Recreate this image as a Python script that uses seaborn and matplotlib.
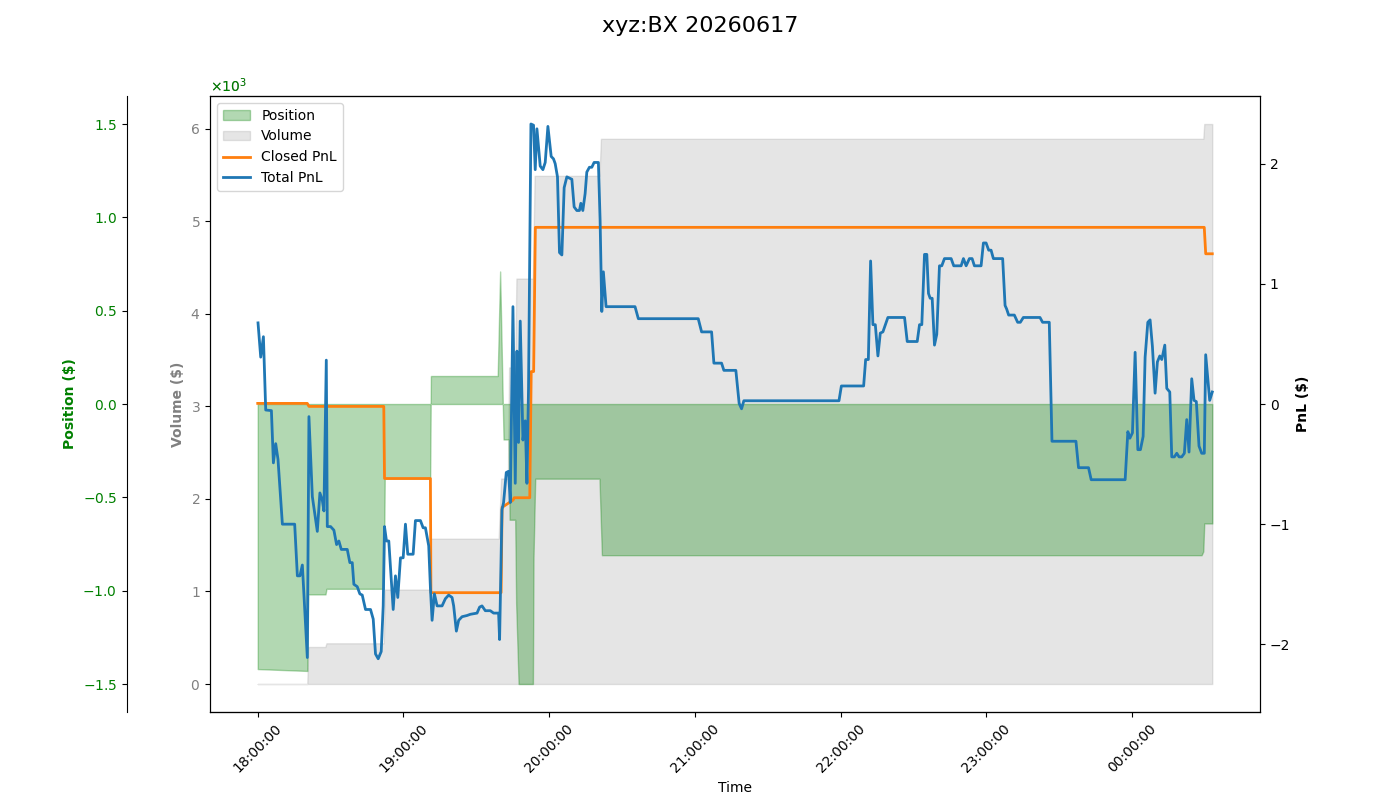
import matplotlib
matplotlib.use('Agg')
import matplotlib.pyplot as plt
import matplotlib.dates as mdates
from matplotlib.patches import Patch
from matplotlib.lines import Line2D
import numpy as np
import pandas as pd
import seaborn as sns

title = 'xyz:BX 20260617'
start = pd.Timestamp('2026-06-17 18:00:00')

# minutes since 18:00 / total pnl ($)
pnl_min = [0.12, 1.23, 2.34, 3.29, 5.63, 6.45, 7.40, 8.34, 10.15, 15.21, 16.32, 17.38, 18.37, 20.42,
           21.08, 22.48, 24.53, 25.60, 26.59, 27.25, 28.23, 28.64, 30.0, 31.36, 32.47, 33.41, 34.40,
           36.86, 37.93, 38.92, 39.58, 40.97, 42.04, 43.03, 44.38, 46.44, 47.55, 48.49, 49.60, 50.84,
           51.66, 52.19, 53.01, 53.96, 55.77, 56.71, 57.66, 58.77, 59.88, 60.82, 61.77, 63.99, 64.93,
           66.99, 68.10, 69.04, 70.40, 71.10, 71.79, 72.74, 73.85, 75.90, 77.26, 78.62, 80.01, 80.67,
           81.78, 82.73, 84.13, 86.18, 87.53, 90.29, 91.36, 92.34, 93.70, 95.75, 97.11, 99.17, 99.58,
           100.56, 101.22, 102.33, 103.28, 103.97, 105.08, 106.03, 106.73, 107.38, 108.08, 109.19,
           110.14, 110.84, 111.49, 112.48, 113.55, 114.25, 114.95, 116.30, 117.41, 118.36, 119.47,
           120.82, 121.77, 122.47, 123.41, 124.24, 125.22, 126.16, 127.27, 129.33, 130.27, 131.38,
           132.45, 133.03, 133.85, 134.79, 135.49, 136.56, 137.55, 138.49, 140.26, 140.96, 141.66,
           142.31, 143.42, 155.34, 156.70, 181.36, 182.75, 186.86, 187.81, 190.97, 191.92, 196.85,
           198.21, 199.20, 200.14, 239.31, 240.30, 249.46, 250.29, 251.40, 252.33, 253.28, 254.27,
           255.34, 256.32, 257.39, 259.45, 266.30, 267.41, 271.52, 272.47, 273.41, 274.52, 275.47,
           276.16, 276.86, 277.68, 278.63, 279.57, 280.68, 281.63, 282.74, 285.49, 286.56, 289.60,
           290.55, 291.66, 293.01, 294.12, 295.07, 297.82, 298.77, 299.88, 300.95, 301.93, 302.88,
           306.70, 307.69, 308.35, 309.17, 311.51, 312.87, 313.97, 315.21, 322.07, 323.14, 325.89,
           327.0, 336.87, 337.94, 342.05, 343.15, 357.13, 358.24, 359.06, 360.13, 361.24, 362.35,
           363.42, 364.53, 365.35, 366.46, 367.40, 368.35, 369.46, 370.40, 371.39, 372.21, 373.45,
           374.27, 375.50, 376.32, 377.39, 378.38, 379.32, 380.43, 381.50, 382.49, 383.43, 384.54,
           385.49, 386.43, 387.54, 388.65, 389.72, 390.29, 391.36, 391.94, 393.0]
total_pnl = [0.675, 0.39, 0.56, -0.05, -0.055, -0.49, -0.33, -0.46, -1.0, -1.0, -1.43, -1.43, -1.34, -2.11,
             -0.105, -0.77, -1.06, -0.74, -0.80, -0.89, 0.365, -1.02, -1.02, -1.05, -1.17, -1.14, -1.21,
             -1.21, -1.32, -1.32, -1.50, -1.52, -1.58, -1.59, -1.71, -1.71, -1.79, -2.08, -2.12, -2.06,
             -1.68, -1.02, -1.14, -1.14, -1.71, -1.43, -1.61, -1.28, -1.28, -1.0, -1.25, -1.25, -0.97,
             -0.97, -1.03, -1.03, -1.18, -1.53, -1.80, -1.58, -1.68, -1.68, -1.62, -1.59, -1.61, -1.68,
             -1.89, -1.80, -1.77, -1.76, -1.75, -1.74, -1.69, -1.68, -1.72, -1.72, -1.74, -1.74, -1.96,
             -0.88, -0.82, -0.57, -0.56, -0.82, 0.81, -0.66, 0.44, -0.32, 0.69, -0.30,
             -0.14, -0.66, 0.13, 2.33, 2.32, 1.95, 2.29, 1.98, 1.95, 2.01, 2.31,
             2.06, 2.04, 2.0, 1.89, 1.26, 1.24, 1.80, 1.89, 1.87, 1.64, 1.61,
             1.61, 1.67, 1.61, 1.75, 1.93, 1.97, 1.97, 2.01, 2.01, 1.53, 0.77,
             1.10, 0.81, 0.81, 0.71, 0.71, 0.60, 0.60, 0.34, 0.34, 0.28, 0.28,
             0.005, -0.04, 0.027, 0.027, 0.15, 0.15, 0.37, 0.37, 1.19, 0.66, 0.66,
             0.40, 0.59, 0.60, 0.72, 0.72, 0.52, 0.52, 0.66, 0.66, 1.245, 1.245,
             0.92, 0.88, 0.88, 0.49, 0.58, 1.15, 1.15, 1.21, 1.21, 1.15, 1.15,
             1.21, 1.15, 1.21, 1.21, 1.15, 1.15, 1.34, 1.34, 1.28, 1.28, 1.21,
             1.21, 0.82, 0.79, 0.74, 0.74, 0.68, 0.68, 0.72, 0.72, 0.68, 0.68,
             -0.31, -0.31, -0.53, -0.53, -0.63, -0.63, -0.23, -0.285, -0.24, 0.43, -0.38,
             -0.38, -0.27, 0.39, 0.68, 0.70, 0.48, 0.09, 0.35, 0.40, 0.37, 0.49,
             0.13, 0.10, -0.44, -0.44, -0.41, -0.44, -0.44, -0.41, -0.13, -0.40, 0.21,
             0.03, 0.02, -0.35, -0.41, -0.41, 0.41, 0.17, 0.03, 0.10]

closed_min = [0, 20.4, 21.1, 51.9, 52.2, 71.1, 71.3, 100.2, 100.6, 105.1, 105.6, 112.0, 112.6,
              113.6, 114.3, 389.7, 390.3, 393.0]
closed_pnl = [0.005, 0.005, -0.02, -0.02, -0.62, -0.62, -1.57, -1.57, -0.86, -0.80, -0.78, -0.78,
              0.27, 0.27, 1.47, 1.47, 1.25, 1.25]

pos_min = [0, 20.4, 20.8, 27.9, 28.3, 51.9, 52.3, 71.0, 71.3, 98.8, 99.8, 101.2, 103.3, 103.7,
           106.0, 106.4, 107.4, 113.3, 113.55, 114.25, 140.7, 141.7, 388.6, 389.3, 389.7, 393.0]
position = [-1420, -1430, -1020, -1020, -990, -990, -400, -400, 150, 150, 710, -190, -190, -620,
            -620, -1070, -1500, -1500, -820, -400, -400, -810, -810, -790, -640, -640]

vol_min = [0, 20.4, 20.8, 27.8, 28.3, 51.9, 52.3, 71.0, 71.3, 99.2, 100.2, 103.0, 103.5, 106.0,
           106.5, 113.3, 114.0, 140.7, 141.3, 389.3, 389.7, 393.0]
volume = [0, 0, 400, 400, 440, 440, 1020, 1020, 1570, 1570, 2220, 2220, 3420, 3420,
          4380, 4380, 5490, 5490, 5890, 5890, 6050, 6050]


def to_time(mins):
    return start + pd.to_timedelta(np.array(mins), unit='min')


pnl_df = pd.DataFrame({'time': to_time(pnl_min), 'pnl': total_pnl})
closed_df = pd.DataFrame({'time': to_time(closed_min), 'pnl': closed_pnl})

fig, ax = plt.subplots(figsize=(14, 8), dpi=100)
fig.subplots_adjust(left=0.15, right=0.9, top=0.88, bottom=0.11)

# volume on the host axis
ax.fill_between(to_time(vol_min), 0, volume, color='gray', alpha=0.2)
ax.set_ylabel('Volume ($)', color='gray', fontweight='bold')
ax.tick_params(axis='y', labelcolor='gray')
ax.ticklabel_format(axis='y', style='sci', scilimits=(0, 0), useMathText=True)
ax.yaxis.get_offset_text().set_color('gray')

# position on an outward left axis
ax2 = ax.twinx()
ax2.spines['left'].set_position(('outward', 60))
ax2.spines['left'].set_visible(True)
ax2.spines['right'].set_visible(False)
ax2.yaxis.set_ticks_position('left')
ax2.yaxis.set_label_position('left')
ax2.fill_between(to_time(pos_min), 0, position, color='green', alpha=0.3)
plim = max(abs(v) for v in position) * 1.1
ax2.set_ylim(-plim, plim)
ax2.set_ylabel('Position ($)', color='green', fontweight='bold')
ax2.tick_params(axis='y', labelcolor='green')
ax2.ticklabel_format(axis='y', style='sci', scilimits=(0, 0), useMathText=True)
ax2.yaxis.get_offset_text().set_color('green')

# pnl on the right
ax3 = ax.twinx()
sns.lineplot(data=closed_df, x='time', y='pnl', ax=ax3, color='tab:orange', linewidth=2,
             estimator=None, sort=False, legend=False)
sns.lineplot(data=pnl_df, x='time', y='pnl', ax=ax3, color='tab:blue', linewidth=2,
             estimator=None, sort=False, legend=False)
lim = max(abs(v) for v in total_pnl + closed_pnl) * 1.1
ax3.set_ylim(-lim, lim)
ax3.set_ylabel('PnL ($)', color='black', fontweight='bold')
ax3.set_xlabel('')

ax.xaxis.set_major_locator(mdates.HourLocator())
ax.xaxis.set_major_formatter(mdates.DateFormatter('%H:%M:%S'))
plt.setp(ax.get_xticklabels(), rotation=45)
ax.set_xlabel('Time')

handles = [Patch(facecolor='green', edgecolor='green', alpha=0.3, label='Position'),
           Patch(facecolor='gray', edgecolor='gray', alpha=0.2, label='Volume'),
           Line2D([], [], color='tab:orange', linewidth=2, label='Closed PnL'),
           Line2D([], [], color='tab:blue', linewidth=2, label='Total PnL')]
ax3.legend(handles=handles, loc='upper left')

fig.suptitle(title, fontsize=16)
fig.savefig('out.png')
